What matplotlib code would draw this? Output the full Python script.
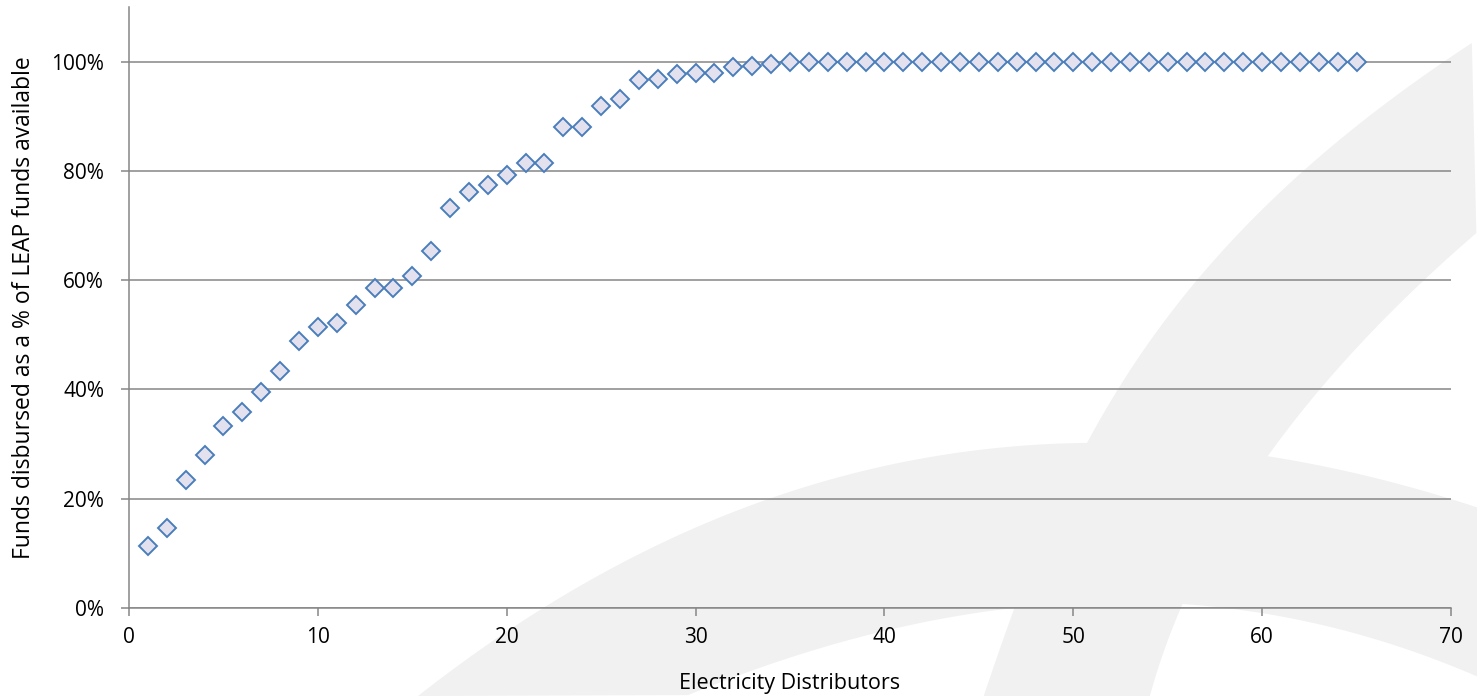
import numpy as np
import matplotlib.pyplot as plt
from matplotlib.patches import Polygon
from matplotlib.ticker import FuncFormatter

# ---------------------------------------------------------
# Datos
# ---------------------------------------------------------
distribuidores = list(range(1, 66))
pct_desembolso = [
    11.4, 14.6, 23.4, 28.0, 33.4, 35.8, 39.6, 43.3, 48.9, 51.4,
    52.1, 55.4, 58.5, 58.6, 60.7, 65.4, 73.3, 76.2, 77.4, 79.3,
    81.4, 81.5, 88.1, 88.1, 91.8, 93.2, 96.6, 96.8, 97.8, 98.0,
    97.9, 99.0, 99.2, 99.6, 100, 100, 100, 100, 100, 100,
    100, 100, 100, 100, 100, 100, 100, 100, 100, 100,
    100, 100, 100, 100, 100, 100, 100, 100, 100, 100,
    100, 100, 100, 100, 100,
]
x_ticks = [0, 10, 20, 30, 40, 50, 60, 70]
y_ticks = [0, 0.2, 0.4, 0.6, 0.8, 1.0]

# ---------------------------------------------------------
# Figura
# ---------------------------------------------------------
W, H = 1477, 696
plt.rcParams['font.family'] = ['Open Sans', 'DejaVu Sans']
fig = plt.figure(figsize=(W / 100, H / 100), dpi=100)

# marca de agua de fondo (pixeles de la figura), bordes suavizados
bg = fig.add_axes([0, 0, 1, 1], zorder=0)
bg.set_xlim(0, W)
bg.set_ylim(H, 0)
bg.axis('off')
gris = '#f1f1f1'


def borde_y(pts, x0, x1, n=200):
    px, py = zip(*pts)
    c = np.polyfit(px, py, 3)
    xs = np.linspace(x0, x1, n)
    return list(zip(xs, np.polyval(c, xs)))


def borde_x(pts, y0, y1, n=200):
    px, py = zip(*pts)
    c = np.polyfit(py, px, 3)
    ys = np.linspace(y0, y1, n)
    return list(zip(np.polyval(c, ys), ys))


arco_sup = [(418, 696), (544, 607), (660, 545), (774, 497), (889, 463),
            (967, 453), (1084, 443), (1265, 455), (1367, 477), (1477, 507)]
arco_inf = [(688, 696), (850, 637), (950, 617), (1010, 610), (1100, 605),
            (1183, 603), (1300, 618), (1367, 637), (1477, 677)]
diag_izq = [(1477, 43), (1367, 110), (1300, 177), (1200, 277), (1113, 400),
            (1090, 443), (1040, 540), (1007, 613), (987, 696)]
diag_der = [(1477, 233), (1367, 333), (1317, 400), (1267, 453), (1220, 530),
            (1183, 603), (1150, 696)]

arco = borde_y(arco_sup, 418, W) + borde_y(arco_inf, W, 688)
diag = borde_x(diag_izq, 43, H) + borde_x(diag_der, H, 233)
bg.add_patch(Polygon(arco, closed=True, facecolor=gris, edgecolor='none'))
bg.add_patch(Polygon(diag, closed=True, facecolor=gris, edgecolor='none'))

ax = fig.add_axes([129 / W, 1 - 608 / H, (1451 - 129) / W, (608 - 7) / H], zorder=1)
ax.patch.set_alpha(0)

y_vals = [v / 100 for v in pct_desembolso]
ax.plot(distribuidores, y_vals, linestyle='none', marker='D', markersize=9.5,
        markerfacecolor='#e4e1ef', markeredgecolor='#4a7ebb',
        markeredgewidth=1.4, zorder=3, clip_on=False)

ax.set_xlim(0, 70)
ax.set_ylim(0, 1.1)
ax.set_xticks(x_ticks)
ax.set_yticks(y_ticks)
ax.yaxis.set_major_formatter(FuncFormatter(lambda v, p: f"{v:.0%}"))

gris_eje = '#868686'
ax.grid(axis='y', color=gris_eje, linewidth=1.1)
ax.set_axisbelow(True)
for s in ['top', 'right']:
    ax.spines[s].set_visible(False)
for s in ['left', 'bottom']:
    ax.spines[s].set_color(gris_eje)
    ax.spines[s].set_linewidth(1.1)
ax.tick_params(axis='both', colors=gris_eje, width=1.1, length=6,
               labelcolor='black', labelsize=15)
ax.tick_params(axis='x', pad=8)
ax.tick_params(axis='y', pad=12)

ax.set_xlabel("Electricity Distributors", fontsize=15.5, labelpad=18)
ax.set_ylabel("Funds disbursed as a % of LEAP funds available", fontsize=16.5, labelpad=11)

fig.savefig("out.png", dpi=100)
